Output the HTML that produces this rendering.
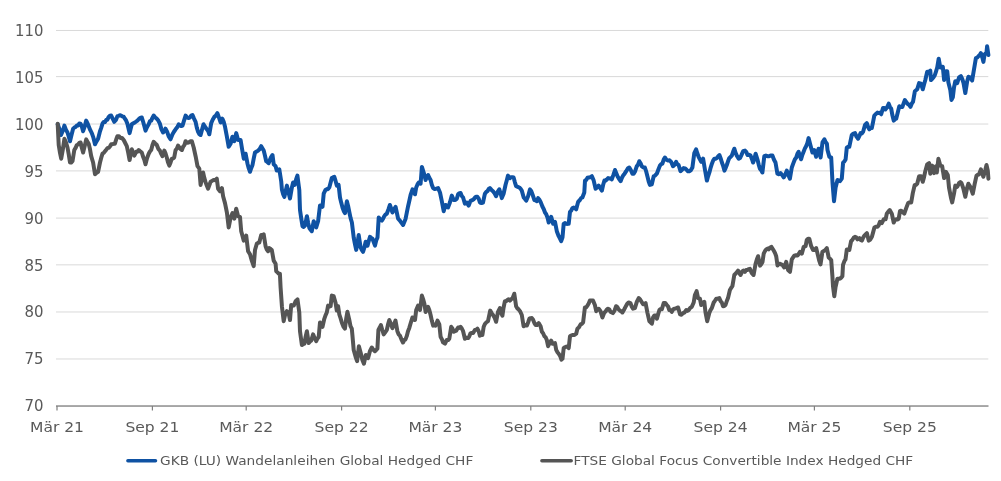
<!DOCTYPE html>
<html lang="de"><head><meta charset="utf-8"><title>Chart</title>
<style>html,body{margin:0;padding:0;background:#fff}svg{display:block}text{font-family:"DejaVu Sans", "Liberation Sans", sans-serif;fill:#595959}</style></head><body>
<svg width="1001" height="481" viewBox="0 0 1001 481">
<rect width="1001" height="481" fill="#fff"/>
<rect x="56" y="29.97" width="932.3" height="1" fill="#d9d9d9"/>
<rect x="56" y="76.10" width="932.3" height="1" fill="#d9d9d9"/>
<rect x="56" y="123.53" width="932.3" height="1" fill="#d9d9d9"/>
<rect x="56" y="170.40" width="932.3" height="1" fill="#d9d9d9"/>
<rect x="56" y="217.59" width="932.3" height="1" fill="#d9d9d9"/>
<rect x="56" y="264.35" width="932.3" height="1" fill="#d9d9d9"/>
<rect x="56" y="311.47" width="932.3" height="1" fill="#d9d9d9"/>
<rect x="56" y="358.47" width="932.3" height="1" fill="#d9d9d9"/>
<rect x="56" y="405.4" width="932.5" height="1.25" fill="#767676"/>
<rect x="56.4" y="406" width="1.2" height="4.5" fill="#808080"/>
<rect x="151.8" y="406" width="1.2" height="4.5" fill="#808080"/>
<rect x="245.6" y="406" width="1.2" height="4.5" fill="#808080"/>
<rect x="341.0" y="406" width="1.2" height="4.5" fill="#808080"/>
<rect x="434.8" y="406" width="1.2" height="4.5" fill="#808080"/>
<rect x="530.2" y="406" width="1.2" height="4.5" fill="#808080"/>
<rect x="624.6" y="406" width="1.2" height="4.5" fill="#808080"/>
<rect x="720.0" y="406" width="1.2" height="4.5" fill="#808080"/>
<rect x="813.8" y="406" width="1.2" height="4.5" fill="#808080"/>
<rect x="909.2" y="406" width="1.2" height="4.5" fill="#808080"/>
<g style="will-change:opacity;opacity:0.999">
<text x="43.4" y="411.3" font-size="15.4" text-anchor="end" textLength="19.0" lengthAdjust="spacingAndGlyphs">70</text>
<text x="43.4" y="364.4" font-size="15.4" text-anchor="end" textLength="19.0" lengthAdjust="spacingAndGlyphs">75</text>
<text x="43.4" y="317.4" font-size="15.4" text-anchor="end" textLength="19.0" lengthAdjust="spacingAndGlyphs">80</text>
<text x="43.4" y="270.5" font-size="15.4" text-anchor="end" textLength="19.0" lengthAdjust="spacingAndGlyphs">85</text>
<text x="43.4" y="223.6" font-size="15.4" text-anchor="end" textLength="19.0" lengthAdjust="spacingAndGlyphs">90</text>
<text x="43.4" y="176.6" font-size="15.4" text-anchor="end" textLength="19.0" lengthAdjust="spacingAndGlyphs">95</text>
<text x="43.4" y="129.7" font-size="15.4" text-anchor="end" textLength="28.4" lengthAdjust="spacingAndGlyphs">100</text>
<text x="43.4" y="82.7" font-size="15.4" text-anchor="end" textLength="28.4" lengthAdjust="spacingAndGlyphs">105</text>
<text x="43.4" y="35.8" font-size="15.4" text-anchor="end" textLength="28.4" lengthAdjust="spacingAndGlyphs">110</text>
<text x="57.0" y="431.7" font-size="14.5" text-anchor="middle" textLength="54.0" lengthAdjust="spacingAndGlyphs">Mär 21</text>
<text x="152.4" y="431.7" font-size="14.5" text-anchor="middle" textLength="54.0" lengthAdjust="spacingAndGlyphs">Sep 21</text>
<text x="246.2" y="431.7" font-size="14.5" text-anchor="middle" textLength="54.0" lengthAdjust="spacingAndGlyphs">Mär 22</text>
<text x="341.6" y="431.7" font-size="14.5" text-anchor="middle" textLength="54.0" lengthAdjust="spacingAndGlyphs">Sep 22</text>
<text x="435.4" y="431.7" font-size="14.5" text-anchor="middle" textLength="54.0" lengthAdjust="spacingAndGlyphs">Mär 23</text>
<text x="530.8" y="431.7" font-size="14.5" text-anchor="middle" textLength="54.0" lengthAdjust="spacingAndGlyphs">Sep 23</text>
<text x="625.2" y="431.7" font-size="14.5" text-anchor="middle" textLength="54.0" lengthAdjust="spacingAndGlyphs">Mär 24</text>
<text x="720.6" y="431.7" font-size="14.5" text-anchor="middle" textLength="54.0" lengthAdjust="spacingAndGlyphs">Sep 24</text>
<text x="814.4" y="431.7" font-size="14.5" text-anchor="middle" textLength="54.0" lengthAdjust="spacingAndGlyphs">Mär 25</text>
<text x="909.8" y="431.7" font-size="14.5" text-anchor="middle" textLength="54.0" lengthAdjust="spacingAndGlyphs">Sep 25</text>
</g>
<polyline fill="none" stroke="#0f52a3" stroke-width="4" stroke-linejoin="round" stroke-linecap="round" points="57.7,124.3 59.4,128.9 61.0,135.0 62.7,131.0 64.4,125.6 65.9,129.6 67.5,132.5 68.7,136.4 70.0,141.2 71.5,135.0 73.1,128.7 74.3,127.6 75.6,126.9 76.8,125.6 78.1,125.6 79.3,123.5 80.6,123.7 81.8,126.5 83.1,131.2 84.7,126.6 86.2,120.6 87.5,123.3 88.7,126.2 90.3,130.2 91.8,133.1 93.4,137.7 95.0,144.3 96.5,141.4 98.1,138.7 100.0,131.2 101.2,127.9 102.5,123.7 103.7,121.9 104.9,122.1 106.2,120.0 107.4,119.7 108.7,116.9 109.9,115.8 111.2,115.6 112.8,118.8 114.3,121.8 115.9,119.9 117.4,116.2 118.7,115.8 119.9,115.2 121.2,115.6 122.4,116.5 123.7,116.7 124.9,118.7 126.2,120.7 127.4,123.7 129.6,133.1 131.8,124.3 133.4,123.3 134.9,122.5 136.2,121.5 137.4,120.6 138.9,119.0 140.3,118.0 141.8,117.5 143.0,121.3 144.3,126.1 145.5,130.6 147.1,127.0 148.7,124.3 149.9,121.2 151.2,120.7 152.4,117.9 153.7,115.6 155.2,117.5 156.8,118.7 158.3,120.6 159.9,123.7 161.4,129.1 163.0,132.5 164.3,131.3 165.5,128.7 167.1,131.7 168.6,136.2 170.5,139.3 172.5,134.3 174.1,131.5 175.6,129.3 177.2,127.3 178.7,124.3 180.0,125.2 181.2,126.1 182.5,125.6 184.1,120.4 185.6,115.6 187.2,117.5 188.7,118.1 190.0,117.4 191.2,115.6 192.5,115.0 194.0,118.6 195.6,121.8 196.8,127.6 198.1,131.8 199.3,134.1 200.6,135.0 202.0,129.7 203.5,124.3 205.2,127.0 206.8,129.3 208.1,130.9 209.3,134.3 211.2,123.1 212.8,119.5 214.3,116.9 215.9,115.6 217.4,113.1 219.0,117.6 220.6,122.5 222.4,118.7 223.7,121.8 224.9,126.2 226.8,136.2 228.7,146.8 230.6,143.7 232.4,136.8 234.3,141.2 236.2,133.1 238.1,140.0 239.3,140.1 240.6,140.0 242.2,149.8 243.8,158.7 245.6,153.7 247.5,163.7 248.7,168.1 250.0,171.8 251.2,168.2 252.5,165.0 253.7,158.6 255.0,152.5 256.6,151.6 258.1,150.6 259.7,149.0 261.2,146.2 262.5,148.5 263.7,150.6 265.0,155.7 266.2,161.2 267.5,162.1 268.7,163.1 270.0,159.5 271.2,156.8 272.5,155.0 273.7,164.3 275.6,166.2 276.8,170.6 278.1,170.4 279.3,169.3 281.2,181.2 281.9,189.4 283.1,194.1 284.4,196.9 285.6,191.4 286.9,185.6 288.4,191.8 290.0,198.5 291.9,187.5 293.1,182.5 294.7,184.8 296.1,179.5 297.4,175.6 299.3,189.9 300.0,210.0 301.2,218.1 302.5,226.2 303.7,226.9 305.0,225.6 306.9,216.2 308.1,222.7 309.4,228.1 310.6,229.7 311.8,231.2 313.7,221.2 315.0,225.1 316.2,227.4 318.1,221.2 320.0,205.6 321.2,205.7 322.5,206.8 323.7,193.7 325.5,189.9 326.8,189.1 328.0,189.2 329.3,187.4 330.5,182.9 331.8,178.1 333.0,177.4 334.3,176.8 335.5,180.7 336.8,185.6 338.6,184.9 340.0,197.5 341.2,202.6 342.5,207.5 343.8,211.2 345.0,213.1 346.9,201.2 348.1,205.9 349.4,212.5 350.6,218.1 351.9,222.5 353.7,237.5 355.0,244.3 356.2,249.9 357.5,243.2 358.7,235.0 360.6,247.4 361.9,250.1 363.1,251.8 364.4,247.4 365.6,241.8 367.5,245.6 368.7,241.2 370.0,236.8 371.2,237.9 372.5,238.7 373.7,242.0 375.0,245.6 376.2,240.6 377.5,237.5 378.7,217.5 380.3,219.8 381.8,220.6 383.1,218.6 384.3,216.2 385.6,214.4 386.8,213.7 388.4,209.4 389.9,205.0 391.2,208.7 392.4,212.5 394.0,209.4 395.6,206.9 396.8,212.5 398.1,218.7 399.9,220.6 401.5,222.9 403.1,225.0 404.3,222.1 405.6,218.7 406.8,212.7 408.1,206.2 409.4,200.5 410.6,195.0 412.5,189.3 413.7,190.9 415.0,194.3 416.2,187.5 417.5,184.4 418.7,182.5 420.6,183.7 421.9,166.9 423.7,172.5 425.6,180.0 426.9,176.8 428.1,175.0 429.3,177.7 430.6,180.0 431.8,184.8 433.1,188.1 434.6,189.0 436.2,188.7 438.1,188.1 440.0,192.5 441.8,201.2 443.7,211.2 445.6,205.0 446.8,206.8 448.1,207.4 449.9,202.5 451.8,195.6 453.7,200.0 455.3,200.0 456.8,198.7 458.1,194.3 459.3,193.2 460.6,193.1 461.8,196.0 463.1,197.5 464.9,203.7 466.8,202.5 468.7,205.6 470.6,200.6 472.1,200.3 473.7,199.3 474.9,197.7 476.2,196.7 477.4,196.8 478.7,198.7 479.9,202.5 481.5,203.0 483.0,202.5 484.9,193.7 486.2,192.0 487.4,191.2 488.7,188.9 489.9,188.1 491.5,189.9 493.0,191.2 494.6,193.4 496.1,196.2 497.7,191.9 499.3,189.3 500.5,193.0 501.8,198.1 503.6,193.7 505.5,185.0 506.8,180.3 508.0,175.6 509.9,178.1 511.1,177.2 512.4,177.2 513.6,177.5 514.9,182.3 516.1,186.2 517.7,186.8 519.3,187.5 520.5,188.7 521.8,190.6 523.7,197.5 525.0,199.0 526.2,200.6 528.1,196.2 530.0,189.4 531.2,190.9 532.5,194.4 534.4,200.0 535.6,200.4 536.9,201.2 538.1,198.1 539.4,199.8 540.6,201.9 542.5,206.8 543.7,209.0 545.0,212.5 546.2,214.2 547.5,217.5 548.7,222.5 550.0,220.4 551.2,216.8 553.1,223.7 555.0,221.8 556.8,231.2 558.7,236.2 560.0,238.7 561.2,241.2 562.5,237.4 563.7,223.7 565.0,223.1 566.2,223.7 567.5,223.9 568.7,223.7 570.0,211.8 571.2,210.6 572.4,208.1 573.7,207.6 574.9,208.0 576.2,209.3 578.1,201.9 579.9,200.0 581.2,198.0 582.4,197.5 584.3,192.5 585.0,180.6 586.2,180.0 587.5,177.8 588.7,177.5 590.3,177.2 591.9,176.2 593.7,180.6 595.6,188.7 597.2,187.5 598.7,185.6 600.3,188.2 601.9,190.6 603.1,185.0 604.4,180.6 605.6,180.7 606.8,179.5 608.1,178.1 609.3,178.5 610.6,178.4 611.8,179.3 613.4,174.9 615.0,170.0 616.2,172.9 617.5,176.2 619.0,178.9 620.6,181.2 621.8,178.0 623.1,175.6 624.6,173.7 626.2,171.2 627.8,168.5 629.3,167.5 630.9,170.2 632.4,173.7 633.7,173.7 634.9,171.8 636.8,166.2 638.1,164.5 639.3,161.2 640.6,163.3 641.8,166.2 643.4,167.6 644.9,167.5 646.2,171.5 647.4,176.2 648.7,181.5 649.9,184.9 651.8,184.3 653.7,176.2 655.2,175.4 656.8,173.7 658.4,169.5 659.9,165.6 661.2,164.2 662.4,163.7 663.7,159.6 664.9,157.5 666.5,159.8 668.0,160.6 669.6,160.3 671.1,161.8 673.0,166.2 674.6,164.7 676.1,161.8 677.4,164.3 678.6,165.0 680.5,171.2 682.1,169.8 683.6,168.1 685.2,168.4 686.8,170.0 688.0,171.3 689.3,171.2 690.8,170.3 692.4,167.5 694.3,153.1 696.1,149.4 697.4,153.5 698.6,156.8 699.9,159.4 701.2,161.8 703.1,158.7 705.0,170.0 706.9,180.6 708.1,176.3 709.4,172.4 710.6,167.8 711.9,163.7 713.1,160.6 714.4,158.7 715.6,158.8 716.9,158.1 718.1,156.4 719.4,155.0 720.6,158.1 721.9,162.5 723.1,165.7 724.4,170.6 725.6,168.1 726.8,165.0 728.1,161.1 729.3,158.1 730.6,156.8 731.8,155.6 733.1,151.8 734.3,148.7 735.6,152.9 736.8,155.6 738.7,158.7 740.0,158.0 741.2,155.6 743.1,151.2 745.0,150.6 746.2,151.8 747.5,155.0 749.0,154.7 750.6,155.6 751.8,158.7 753.1,162.5 754.3,159.1 755.6,153.7 757.4,159.3 758.7,164.6 759.9,168.7 761.2,170.3 762.4,172.4 764.3,156.2 765.9,155.6 767.4,156.2 769.0,156.3 770.5,155.6 772.4,155.6 774.0,159.7 775.5,162.5 777.4,173.7 779.0,174.3 780.5,173.1 782.1,175.0 783.7,177.4 785.2,174.8 786.8,170.6 788.3,175.0 789.9,178.7 791.8,167.5 793.3,163.4 794.9,159.3 796.1,157.8 797.4,153.8 798.6,151.8 799.9,156.0 801.1,159.3 802.4,154.8 803.6,151.8 804.9,148.4 806.1,146.2 807.4,143.0 808.6,138.1 810.5,145.6 812.4,152.5 814.3,150.0 816.1,156.8 817.4,152.2 818.6,148.7 820.6,157.5 822.5,142.4 824.4,139.3 825.6,142.0 826.9,143.7 827.5,150.0 829.4,156.9 831.2,157.5 832.5,182.5 834.0,201.2 835.6,187.5 837.5,180.0 838.7,180.8 840.0,181.2 841.8,178.7 843.1,162.5 844.3,161.6 845.6,159.4 846.8,147.5 848.1,146.9 849.3,146.8 850.6,140.6 851.8,135.0 853.4,133.6 855.0,133.1 856.5,136.6 858.1,138.7 859.3,136.1 860.6,133.1 861.8,133.4 863.1,131.8 865.0,125.0 866.8,123.1 868.1,127.0 869.3,129.3 870.6,128.0 871.8,128.1 873.1,121.9 874.3,115.6 876.2,113.7 877.4,112.6 878.7,113.1 879.9,112.8 881.2,114.3 883.0,108.1 884.3,107.9 885.5,109.4 887.1,107.3 888.7,103.7 889.9,106.8 891.2,108.7 892.4,115.3 893.7,120.6 894.9,119.3 896.2,118.7 897.7,112.7 899.3,106.2 900.8,107.1 902.4,106.9 903.7,103.2 904.9,100.0 906.2,102.0 907.4,103.7 909.0,104.7 910.5,106.9 911.8,103.5 913.0,101.9 914.9,91.2 917.2,89.3 919.1,83.1 921.0,83.7 922.8,89.3 924.1,84.2 925.3,80.0 927.2,71.8 928.8,72.0 930.3,70.6 931.0,80.0 932.2,78.8 933.4,77.5 934.7,75.5 935.9,71.8 937.2,67.5 938.7,58.7 940.3,67.5 941.6,67.1 942.8,66.8 944.1,80.0 945.9,71.2 947.2,71.2 948.4,82.5 950.3,90.0 951.5,99.9 952.8,97.4 954.0,87.5 955.3,81.2 957.2,83.1 959.0,77.5 960.9,76.2 962.2,78.9 963.4,82.5 965.3,93.1 967.2,81.2 968.4,76.8 970.3,77.5 972.1,80.6 974.0,69.3 975.9,58.1 977.1,57.7 978.4,56.2 979.6,55.3 980.9,53.1 982.1,56.5 983.4,61.9 984.6,54.4 986.5,52.5 987.1,46.2 988.4,55.0"/>
<polyline fill="none" stroke="#555555" stroke-width="4" stroke-linejoin="round" stroke-linecap="round" points="57.7,123.8 58.7,145.0 60.0,152.8 61.2,158.7 62.8,149.6 64.4,138.7 65.9,142.2 67.5,147.5 68.7,154.1 70.0,162.5 71.2,162.5 72.5,161.2 74.3,150.0 75.6,147.9 76.8,145.0 78.1,144.5 79.3,142.9 80.6,142.5 81.8,147.7 83.1,152.5 84.7,146.1 86.2,139.4 87.5,141.7 88.7,143.7 90.0,149.3 91.2,156.2 93.1,162.5 95.0,174.3 96.5,172.9 98.1,171.8 100.0,162.5 101.2,157.9 102.5,153.7 104.0,152.6 105.6,150.6 107.4,148.1 108.7,147.8 109.9,146.5 111.2,144.3 112.4,144.2 113.7,143.8 114.9,143.7 116.2,139.5 117.4,136.2 119.0,136.2 120.5,138.1 122.1,138.1 123.7,140.0 125.2,143.0 126.8,146.2 128.2,152.7 129.6,160.0 131.8,149.3 133.0,152.2 134.3,155.6 136.2,151.8 137.4,151.7 138.7,150.0 140.2,151.3 141.8,152.5 143.0,156.5 144.3,159.8 145.5,164.3 147.1,158.1 148.7,153.7 149.9,151.5 151.2,150.0 152.4,145.2 153.7,141.8 155.2,143.4 156.8,145.0 158.3,148.8 159.9,150.6 161.1,153.7 162.4,156.2 164.3,150.6 165.5,153.4 166.8,157.5 168.0,162.3 169.3,165.6 170.5,162.7 171.8,158.7 173.0,158.6 174.2,157.5 175.6,150.0 176.9,148.6 178.1,145.6 179.4,147.6 180.6,149.1 181.9,150.0 183.1,146.8 184.4,145.1 185.6,141.2 187.2,142.8 188.7,142.5 190.3,141.2 191.8,141.2 193.7,147.5 195.6,156.2 197.5,166.2 199.3,168.7 200.6,184.9 201.8,179.2 203.1,172.5 204.3,177.9 205.6,182.4 206.8,185.5 208.1,188.7 209.3,185.3 210.6,181.8 212.1,180.9 213.7,179.9 215.3,180.2 216.8,178.7 218.1,188.7 220.0,191.2 221.9,188.1 223.1,196.2 225.0,203.1 226.9,212.5 228.7,227.4 230.6,217.5 232.5,213.1 234.3,218.7 236.2,208.7 238.1,216.2 240.0,216.8 241.2,231.2 242.5,235.9 243.7,240.6 245.0,238.8 246.2,235.6 248.1,251.2 250.0,254.3 251.8,260.6 253.7,266.2 255.0,250.0 256.8,243.7 258.1,242.8 259.3,242.5 261.2,235.0 262.5,235.4 263.7,234.4 265.6,246.2 266.8,249.5 268.1,251.2 269.3,248.1 270.6,249.0 271.8,250.0 273.7,260.6 275.6,263.7 276.2,271.2 277.4,272.2 278.7,273.7 279.9,273.7 280.6,287.5 281.9,306.2 283.7,321.2 285.0,315.0 286.9,311.2 288.7,313.7 290.0,320.0 291.2,305.0 292.5,305.7 293.7,305.6 295.6,301.2 297.5,299.4 299.3,312.5 300.0,331.2 301.9,345.0 303.1,344.3 304.4,343.7 305.6,336.9 306.9,331.2 308.7,343.1 310.0,341.5 311.2,340.6 313.1,334.4 314.7,338.2 316.2,341.2 317.5,338.4 318.7,336.9 320.0,322.5 321.2,325.5 322.5,326.9 324.3,318.8 325.6,315.1 326.8,312.5 328.1,305.6 329.3,306.7 330.6,306.2 331.8,295.6 333.7,296.2 335.6,303.1 336.8,310.6 338.1,306.2 339.3,314.3 340.5,318.0 341.8,322.4 343.4,326.5 344.9,328.7 346.2,318.7 347.4,311.8 349.3,320.0 350.5,326.2 351.8,328.7 352.4,335.0 353.7,350.0 355.6,356.8 357.1,361.2 358.9,346.2 360.6,352.5 362.4,360.0 363.9,363.7 365.8,355.0 368.1,358.1 369.9,351.2 371.8,347.5 373.4,349.8 374.9,351.2 376.2,350.0 377.4,348.7 378.4,330.0 379.7,327.5 380.9,325.0 382.3,330.0 383.7,334.4 385.2,332.4 386.8,330.0 388.0,324.6 389.3,320.0 390.8,323.5 392.4,328.1 394.0,324.4 395.5,320.6 397.4,331.2 398.6,334.3 399.9,335.6 401.4,339.3 403.0,342.5 404.3,340.1 405.5,339.4 406.8,335.9 408.0,331.2 409.3,327.9 410.5,323.7 412.4,317.5 413.7,319.6 415.0,320.0 416.2,310.0 418.1,305.6 420.0,310.0 421.9,295.6 423.1,299.1 424.4,303.7 425.6,311.9 426.9,309.8 428.1,306.9 429.3,310.0 430.6,315.0 431.8,320.6 433.1,325.6 434.3,325.1 435.6,325.6 437.5,320.6 439.3,324.3 440.6,336.8 441.8,339.1 443.1,342.4 445.0,343.7 446.8,339.9 448.1,340.1 449.3,338.7 451.2,326.8 452.4,328.5 453.7,331.8 454.9,331.2 456.2,330.6 458.1,327.5 459.3,327.9 460.6,326.8 461.8,328.5 463.1,331.2 464.9,338.7 466.5,337.8 468.1,338.1 469.3,336.3 470.6,333.1 471.8,332.9 473.1,333.1 474.9,330.0 476.2,329.8 477.4,328.7 478.7,331.2 479.9,335.6 481.2,335.0 482.4,334.9 483.7,326.8 484.9,324.0 486.2,322.5 488.0,321.2 490.2,310.6 491.6,313.1 493.0,315.0 494.6,317.6 496.1,321.8 498.0,311.9 499.9,308.1 501.1,312.8 502.4,315.6 503.6,307.5 504.9,301.2 506.1,301.1 507.4,300.0 508.6,299.3 509.9,300.6 511.1,299.2 512.4,298.7 514.3,293.7 516.1,306.2 517.4,308.4 518.6,309.4 520.2,311.5 521.8,315.0 523.6,326.2 525.2,325.3 526.9,325.6 528.1,322.5 529.4,318.7 530.6,318.2 531.9,318.1 533.1,319.7 534.4,323.1 535.6,325.0 536.9,325.0 538.7,323.1 540.6,326.2 541.9,331.8 543.1,333.3 544.4,336.2 545.6,337.2 546.8,340.0 548.1,346.2 549.7,343.1 551.2,340.6 552.5,343.7 553.7,343.6 555.0,343.1 556.2,349.9 557.5,352.3 558.7,353.7 560.1,355.9 561.5,359.7 562.5,358.7 563.7,348.1 565.0,347.1 566.2,346.8 567.5,346.5 568.7,348.1 570.0,336.2 571.2,335.5 572.4,335.0 573.7,335.1 574.9,334.6 576.2,333.7 577.4,328.7 579.0,327.3 580.6,324.4 581.8,323.9 583.1,322.5 584.9,307.5 586.2,307.3 587.4,305.6 588.7,303.5 589.9,300.6 591.5,300.6 593.0,300.6 594.9,305.0 596.2,311.2 597.4,309.4 598.7,308.7 600.5,311.2 602.4,317.5 604.3,312.5 605.5,311.6 606.8,309.6 608.0,308.7 609.3,309.5 610.5,311.9 611.8,312.4 613.0,313.1 614.6,310.4 616.1,306.2 617.4,307.1 618.6,309.4 619.9,310.6 621.1,311.2 622.4,312.5 624.0,309.7 625.5,306.9 627.1,304.0 628.6,302.5 630.5,303.1 631.8,306.8 633.0,308.7 634.9,308.1 636.8,301.9 638.7,298.1 640.0,299.2 641.2,301.2 643.1,304.3 644.4,303.9 645.6,303.1 647.5,313.1 649.4,321.2 650.6,322.3 651.9,323.7 653.1,317.4 654.4,315.5 655.6,315.6 656.9,318.7 658.1,314.4 659.4,310.0 660.6,308.9 661.8,309.3 663.7,303.1 665.3,303.1 666.8,305.0 668.1,306.5 669.3,310.0 670.6,310.2 671.8,311.8 673.1,309.5 674.3,308.7 675.6,308.6 676.8,307.9 678.1,307.5 680.0,314.3 681.5,314.7 683.1,313.1 684.6,312.4 686.2,310.0 687.4,310.9 688.7,310.0 690.2,307.9 691.8,306.8 693.7,302.5 694.9,295.0 696.6,291.2 698.1,298.1 699.9,298.7 701.2,305.0 702.7,303.3 704.3,301.8 705.5,312.4 707.2,321.2 709.3,313.1 710.5,310.1 711.8,308.1 713.7,302.5 714.9,300.8 716.2,298.7 717.7,298.7 719.3,298.1 720.5,300.9 721.8,302.5 723.0,306.2 724.3,306.0 725.5,305.0 726.8,301.0 728.0,298.1 729.9,290.0 731.1,288.0 732.4,286.2 734.3,275.0 736.1,273.1 738.0,270.6 739.3,272.9 740.5,275.0 742.4,271.2 743.6,270.6 744.9,271.9 746.1,270.0 747.4,270.0 748.6,269.2 749.9,268.8 751.8,273.1 753.6,275.0 755.6,263.7 756.9,259.2 758.1,256.2 760.0,265.6 761.2,264.2 762.5,261.9 763.7,253.7 765.0,251.0 766.2,249.4 767.5,248.6 768.7,249.4 770.1,247.5 771.5,246.9 773.7,250.6 775.0,252.9 776.2,256.2 777.5,265.6 778.7,264.1 780.0,263.7 781.2,264.4 782.5,265.0 784.3,267.5 786.2,261.9 788.1,270.0 790.0,271.8 791.8,259.4 793.1,257.4 794.3,255.6 795.9,255.2 797.5,255.6 798.7,254.0 800.0,251.9 801.8,253.7 803.7,246.9 805.6,246.2 806.8,240.0 808.1,238.8 809.3,238.8 811.2,246.2 813.1,250.0 814.6,249.9 816.2,248.1 818.0,255.6 819.3,260.9 820.5,264.4 822.4,251.9 824.3,250.6 825.5,249.8 826.8,248.1 828.7,257.5 829.9,258.6 831.2,260.0 832.4,276.2 833.0,286.2 834.3,296.2 835.5,287.4 837.4,278.7 838.7,278.7 839.9,278.7 841.2,277.6 842.4,276.2 843.0,265.0 844.3,261.3 845.5,259.4 846.8,249.4 848.0,249.5 849.3,250.0 851.1,241.2 852.4,239.8 853.7,237.7 855.0,236.8 856.2,237.3 857.5,239.3 859.4,238.1 860.6,239.9 861.9,240.6 863.1,237.8 864.4,235.6 865.6,234.4 866.9,233.1 868.7,240.6 870.3,239.5 871.9,236.8 873.1,232.4 874.4,227.5 875.9,226.7 877.5,226.8 878.7,225.3 880.0,221.8 881.8,223.1 883.7,219.3 885.6,219.3 886.8,213.7 888.3,211.6 889.7,210.0 891.8,213.7 893.7,222.5 895.0,219.9 896.2,219.3 897.5,219.4 898.7,218.7 900.0,211.2 901.2,210.7 902.4,211.8 904.3,213.7 906.2,208.1 908.1,203.1 909.6,202.4 911.2,202.5 912.8,193.1 914.7,185.0 916.0,185.0 917.2,183.7 919.1,176.2 921.0,176.2 922.8,181.8 924.1,176.9 925.3,171.2 927.2,164.4 929.1,163.1 930.3,173.7 932.2,165.6 934.1,173.1 935.9,166.2 936.8,172.5 938.4,158.7 940.3,165.6 942.2,166.2 944.1,178.1 945.9,171.8 947.8,175.0 949.0,187.5 950.9,197.4 952.2,202.4 954.0,193.7 955.3,185.6 957.2,186.8 959.0,183.1 960.3,182.1 961.5,183.1 963.4,188.7 965.3,196.8 967.2,187.5 968.4,183.7 970.3,186.8 971.5,190.2 972.8,193.7 974.6,184.3 976.5,175.6 977.8,174.8 979.0,174.3 980.9,169.4 982.1,173.1 983.4,176.8 985.3,170.0 986.5,165.0 987.8,170.6 988.4,178.7"/>
<line x1="127.9" y1="460.8" x2="155.5" y2="460.8" stroke="#0f52a3" stroke-width="3.5" stroke-linecap="round"/>
<line x1="541.9" y1="460.8" x2="571.2" y2="460.8" stroke="#555555" stroke-width="3.5" stroke-linecap="round"/>
<g style="will-change:opacity;opacity:0.999">
<text x="160" y="465.4" font-size="13.1" textLength="313.3" lengthAdjust="spacingAndGlyphs">GKB (LU) Wandelanleihen Global Hedged CHF</text>
<text x="573.6" y="465.4" font-size="13.1" textLength="339.6" lengthAdjust="spacingAndGlyphs">FTSE Global Focus Convertible Index Hedged CHF</text>
</g>
</svg></body></html>
